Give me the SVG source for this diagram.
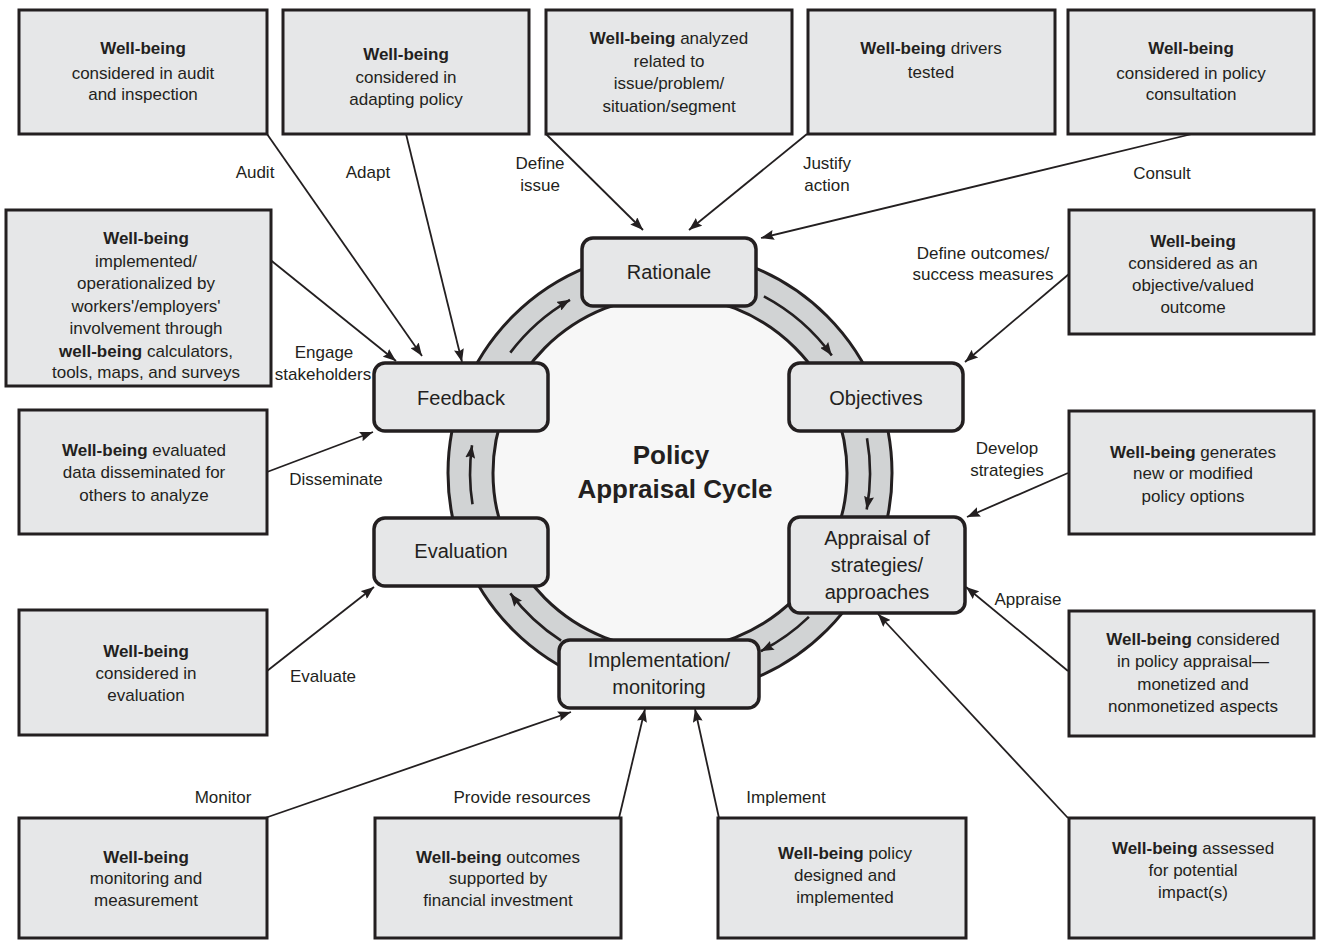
<svg xmlns="http://www.w3.org/2000/svg" width="1319" height="941" viewBox="0 0 1319 941">
<defs>
<style>
.box{fill:#e6e7e8;stroke:#231f20;stroke-width:3}
.node{fill:#e6e7e8;stroke:#231f20;stroke-width:3.5}
.t{font-family:"Liberation Sans",Arial,sans-serif;font-size:17px;fill:#231f20;text-anchor:middle}
.b{font-weight:bold}
.nt{font-family:"Liberation Sans",Arial,sans-serif;font-size:20px;fill:#231f20;text-anchor:middle}
.title{font-family:"Liberation Sans",Arial,sans-serif;font-size:26px;font-weight:bold;fill:#231f20;text-anchor:middle}
.conn{fill:none;stroke:#231f20;stroke-width:1.8;marker-end:url(#ah)}
.ring-arrow{fill:none;stroke:#231f20;stroke-width:2.6;marker-end:url(#ah)}
</style>
<marker id="ah" viewBox="0 0 13 10" refX="13" refY="5" markerWidth="13" markerHeight="10" markerUnits="userSpaceOnUse" orient="auto">
<path d="M0,0 L13,5 L0,10 L2,5 z" fill="#231f20"/>
</marker>
</defs>
<rect width="1319" height="941" fill="#ffffff"/>

<g id="ring">
<circle cx="670" cy="473" r="222" fill="#d1d3d4" stroke="#231f20" stroke-width="3"/>
<circle cx="670" cy="473" r="177" fill="#f7f7f7" stroke="#231f20" stroke-width="3"/>
<path class="ring-arrow" d="M510.3,352.6 A200,200 0 0 1 570,299.8"/>
<path class="ring-arrow" d="M763.9,296.4 A200,200 0 0 1 831.8,355.4"/>
<path class="ring-arrow" d="M867,438.3 A200,200 0 0 1 866.7,509.4"/>
<path class="ring-arrow" d="M808.9,616.9 A200,200 0 0 1 760.8,651.2"/>
<path class="ring-arrow" d="M561.1,640.7 A200,200 0 0 1 510.3,593.4"/>
<path class="ring-arrow" d="M472.5,504.3 A200,200 0 0 1 472,445.2"/>
<text class="title" x="671" y="464">Policy</text>
<text class="title" x="675" y="498">Appraisal Cycle</text>
</g>

<g id="connectors">
<line class="conn" x1="267" y1="134" x2="422" y2="356"/>
<line class="conn" x1="406" y1="134" x2="462" y2="362"/>
<line class="conn" x1="546" y1="134" x2="643" y2="230"/>
<line class="conn" x1="807" y1="134" x2="689" y2="230"/>
<line class="conn" x1="1192" y1="134" x2="761" y2="238"/>
<line class="conn" x1="1069" y1="274" x2="965" y2="362"/>
<line class="conn" x1="268" y1="258" x2="396" y2="361"/>
<line class="conn" x1="267" y1="472" x2="373" y2="432"/>
<line class="conn" x1="1068" y1="473" x2="967" y2="517"/>
<line class="conn" x1="267" y1="671" x2="374" y2="587"/>
<line class="conn" x1="1068" y1="671" x2="966" y2="587"/>
<line class="conn" x1="265" y1="818" x2="571" y2="712"/>
<line class="conn" x1="619" y1="818" x2="645" y2="709"/>
<line class="conn" x1="719" y1="818" x2="695" y2="709"/>
<line class="conn" x1="1068" y1="818" x2="878" y2="614"/>
<text class="t" x="255" y="178">Audit</text>
<text class="t" x="368" y="178">Adapt</text>
<text class="t" x="540" y="169">Define</text>
<text class="t" x="540" y="191">issue</text>
<text class="t" x="827" y="169">Justify</text>
<text class="t" x="827" y="191">action</text>
<text class="t" x="1162" y="179">Consult</text>
<text class="t" x="983" y="259">Define outcomes/</text>
<text class="t" x="983" y="280">success measures</text>
<text class="t" x="324" y="358">Engage</text>
<text class="t" x="323" y="380">stakeholders</text>
<text class="t" x="336" y="485">Disseminate</text>
<text class="t" x="1007" y="454">Develop</text>
<text class="t" x="1007" y="476">strategies</text>
<text class="t" x="1028" y="605">Appraise</text>
<text class="t" x="323" y="682">Evaluate</text>
<text class="t" x="223" y="803">Monitor</text>
<text class="t" x="522" y="803">Provide resources</text>
<text class="t" x="786" y="803">Implement</text>
</g>

<g id="node-rationale">
<rect class="node" x="582" y="238" width="174" height="68" rx="11"/>
<text class="nt" x="669" y="279">Rationale</text>
</g>
<g id="node-objectives">
<rect class="node" x="789" y="363" width="174" height="68" rx="11"/>
<text class="nt" x="876" y="405">Objectives</text>
</g>
<g id="node-appraisal">
<rect class="node" x="789" y="517" width="176" height="96" rx="11"/>
<text class="nt" x="877" y="545">Appraisal of</text>
<text class="nt" x="877" y="572">strategies/</text>
<text class="nt" x="877" y="599">approaches</text>
</g>
<g id="node-implementation">
<rect class="node" x="559" y="640" width="200" height="68" rx="11"/>
<text class="nt" x="659" y="667">Implementation/</text>
<text class="nt" x="659" y="694">monitoring</text>
</g>
<g id="node-evaluation">
<rect class="node" x="374" y="518" width="174" height="68" rx="11"/>
<text class="nt" x="461" y="558">Evaluation</text>
</g>
<g id="node-feedback">
<rect class="node" x="374" y="363" width="174" height="68" rx="11"/>
<text class="nt" x="461" y="405">Feedback</text>
</g>

<g id="box-audit">
<rect class="box" x="19" y="10" width="248" height="124"/>
<text class="t" x="143" y="54"><tspan class="b">Well-being</tspan></text>
<text class="t" x="143" y="79">considered in audit</text>
<text class="t" x="143" y="100">and inspection</text>
</g>
<g id="box-adapt">
<rect class="box" x="283" y="10" width="246" height="124"/>
<text class="t" x="406" y="60"><tspan class="b">Well-being</tspan></text>
<text class="t" x="406" y="83">considered in</text>
<text class="t" x="406" y="105">adapting policy</text>
</g>
<g id="box-define">
<rect class="box" x="546" y="10" width="246" height="124"/>
<text class="t" x="669" y="44"><tspan class="b">Well-being</tspan> analyzed</text>
<text class="t" x="669" y="67">related to</text>
<text class="t" x="669" y="89">issue/problem/</text>
<text class="t" x="669" y="112">situation/segment</text>
</g>
<g id="box-justify">
<rect class="box" x="808" y="10" width="247" height="124"/>
<text class="t" x="931" y="54"><tspan class="b">Well-being</tspan> drivers</text>
<text class="t" x="931" y="78">tested</text>
</g>
<g id="box-consult">
<rect class="box" x="1068" y="10" width="246" height="124"/>
<text class="t" x="1191" y="54"><tspan class="b">Well-being</tspan></text>
<text class="t" x="1191" y="79">considered in policy</text>
<text class="t" x="1191" y="100">consultation</text>
</g>
<g id="box-engage">
<rect class="box" x="6" y="210" width="265" height="176"/>
<text class="t" x="146" y="244"><tspan class="b">Well-being</tspan></text>
<text class="t" x="146" y="267">implemented/</text>
<text class="t" x="146" y="289">operationalized by</text>
<text class="t" x="146" y="312">workers'/employers'</text>
<text class="t" x="146" y="334">involvement through</text>
<text class="t" x="146" y="357"><tspan class="b">well-being</tspan> calculators,</text>
<text class="t" x="146" y="378">tools, maps, and surveys</text>
</g>
<g id="box-disseminate">
<rect class="box" x="19" y="410" width="248" height="124"/>
<text class="t" x="144" y="456"><tspan class="b">Well-being</tspan> evaluated</text>
<text class="t" x="144" y="478">data disseminated for</text>
<text class="t" x="144" y="501">others to analyze</text>
</g>
<g id="box-evaluate">
<rect class="box" x="19" y="610" width="248" height="125"/>
<text class="t" x="146" y="657"><tspan class="b">Well-being</tspan></text>
<text class="t" x="146" y="679">considered in</text>
<text class="t" x="146" y="701">evaluation</text>
</g>
<g id="box-outcomes">
<rect class="box" x="1069" y="210" width="245" height="124"/>
<text class="t" x="1193" y="247"><tspan class="b">Well-being</tspan></text>
<text class="t" x="1193" y="269">considered as an</text>
<text class="t" x="1193" y="291">objective/valued</text>
<text class="t" x="1193" y="313">outcome</text>
</g>
<g id="box-develop">
<rect class="box" x="1069" y="411" width="245" height="123"/>
<text class="t" x="1193" y="458"><tspan class="b">Well-being</tspan> generates</text>
<text class="t" x="1193" y="479">new or modified</text>
<text class="t" x="1193" y="502">policy options</text>
</g>
<g id="box-appraise">
<rect class="box" x="1069" y="611" width="245" height="125"/>
<text class="t" x="1193" y="645"><tspan class="b">Well-being</tspan> considered</text>
<text class="t" x="1193" y="667">in policy appraisal—</text>
<text class="t" x="1193" y="690">monetized and</text>
<text class="t" x="1193" y="712">nonmonetized aspects</text>
</g>
<g id="box-monitor">
<rect class="box" x="19" y="818" width="248" height="120"/>
<text class="t" x="146" y="863"><tspan class="b">Well-being</tspan></text>
<text class="t" x="146" y="884">monitoring and</text>
<text class="t" x="146" y="906">measurement</text>
</g>
<g id="box-resources">
<rect class="box" x="375" y="818" width="246" height="120"/>
<text class="t" x="498" y="863"><tspan class="b">Well-being</tspan> outcomes</text>
<text class="t" x="498" y="884">supported by</text>
<text class="t" x="498" y="906">financial investment</text>
</g>
<g id="box-implement">
<rect class="box" x="718" y="818" width="248" height="120"/>
<text class="t" x="845" y="859"><tspan class="b">Well-being</tspan> policy</text>
<text class="t" x="845" y="881">designed and</text>
<text class="t" x="845" y="903">implemented</text>
</g>
<g id="box-assessed">
<rect class="box" x="1069" y="818" width="245" height="120"/>
<text class="t" x="1193" y="854"><tspan class="b">Well-being</tspan> assessed</text>
<text class="t" x="1193" y="876">for potential</text>
<text class="t" x="1193" y="898">impact(s)</text>
</g>
</svg>
